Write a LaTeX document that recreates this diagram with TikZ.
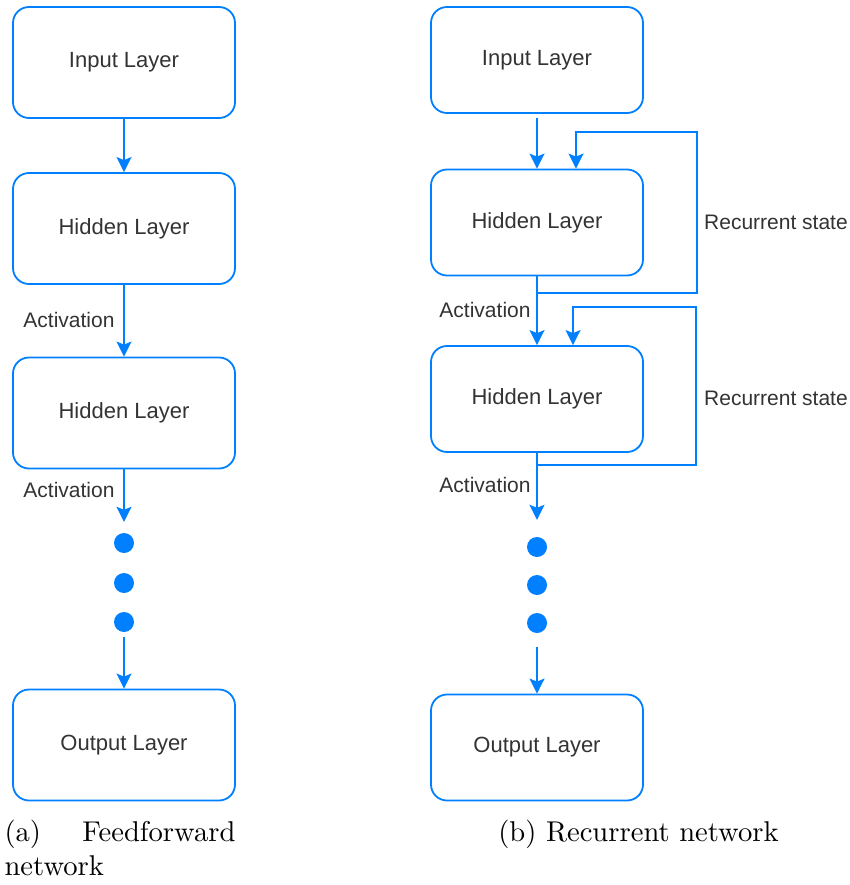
\documentclass[tikz,border=0pt]{standalone}
\usepackage{fontspec}
\newfontfamily\diafont{Liberation Sans}
\usetikzlibrary{arrows.meta}
\definecolor{lblue}{RGB}{0,127,255}
\definecolor{txtgray}{RGB}{51,51,51}
\begin{document}
\begin{tikzpicture}[x=1pt,y=-1pt,
  layer/.style={draw=lblue, line width=1.8pt, rounded corners=16pt, inner sep=0pt,
    font=\diafont\fontsize{22}{26}\selectfont, text=txtgray},
  lbox/.style={layer, minimum width=222pt, minimum height=111pt},
  rbox/.style={layer, minimum width=212pt, minimum height=106pt},
  arr/.style={draw=lblue, line width=1.8pt, -{Stealth[length=15pt,width=15pt,inset=3pt]}},
  wire/.style={draw=lblue, line width=1.8pt},
  dot/.style={circle, fill=lblue, minimum size=20pt, inner sep=0pt},
  lab/.style={font=\diafont\fontsize{21}{25}\selectfont, text=txtgray, inner sep=0pt},
  capt/.style={scale=2.86, inner sep=0pt, text=black}]
\useasboundingbox (0,0) rectangle (850,885);
% ---------- (a) feedforward ----------
\node[lbox] (li) at (124,62.5) {Input Layer};
\node[lbox] (lh1) at (124,228.5) {Hidden Layer};
\node[lbox] (lh2) at (124,413) {Hidden Layer};
\node[lbox] (lo) at (124,745) {Output Layer};
\node[dot] (ld1) at (124,543) {};
\node[dot] (ld2) at (124,583) {};
\node[dot] (ld3) at (124,622) {};
\draw[arr] (li) -- (lh1);
\draw[arr] (lh1) -- (lh2);
\draw[arr, shorten >=11pt] (lh2) -- (ld1);
\draw[arr, shorten <=5pt] (ld3) -- (lo);
\node[lab] (la1) at (69,320) {Activation};
\node[lab] (la2) at (69,490) {Activation};
% ---------- (b) recurrent ----------
\node[rbox] (ri) at (537,60) {Input Layer};
\node[rbox] (rh1) at (537,222.5) {Hidden Layer};
\node[rbox] (rh2) at (537,399) {Hidden Layer};
\node[rbox] (ro) at (537,747.5) {Output Layer};
\node[dot] (rd1) at (537,547) {};
\node[dot] (rd2) at (537,585) {};
\node[dot] (rd3) at (537,623) {};
\draw[arr, shorten <=4pt] (ri) -- (rh1);
\draw[arr] (rh1) -- (rh2);
\draw[arr, shorten >=17pt] (rh2) -- (rd1);
\draw[arr, shorten <=14pt] (rd3) -- (ro);
\coordinate (b1) at (537,293);
\coordinate (c1) at (697,132);
\coordinate (t1) at (576,132);
\draw[arr] (b1) -| (c1) -- (t1) -- (t1 |- rh1.north);
\coordinate (b2) at (537,465);
\coordinate (c2) at (696,307);
\coordinate (t2) at (573,307);
\draw[arr] (b2) -| (c2) -- (t2) -- (t2 |- rh2.north);
\node[lab] (ra1) at (485,310) {Activation};
\node[lab] (ra2) at (485,485) {Activation};
\node[lab, anchor=west] (rs1) at (704,222) {Recurrent state};
\node[lab, anchor=west] (rs2) at (704,398) {Recurrent state};
% ---------- captions ----------
\node[capt, anchor=base west] (ca1) at (4,841) {(a)};
\node[capt, anchor=base east] (ca2) at (236,841) {Feedforward};
\node[capt, anchor=base west] (ca3) at (4,875) {network};
\node[capt, anchor=base] (cb) at (638.5,841) {(b) Recurrent network};
\end{tikzpicture}
\end{document}
